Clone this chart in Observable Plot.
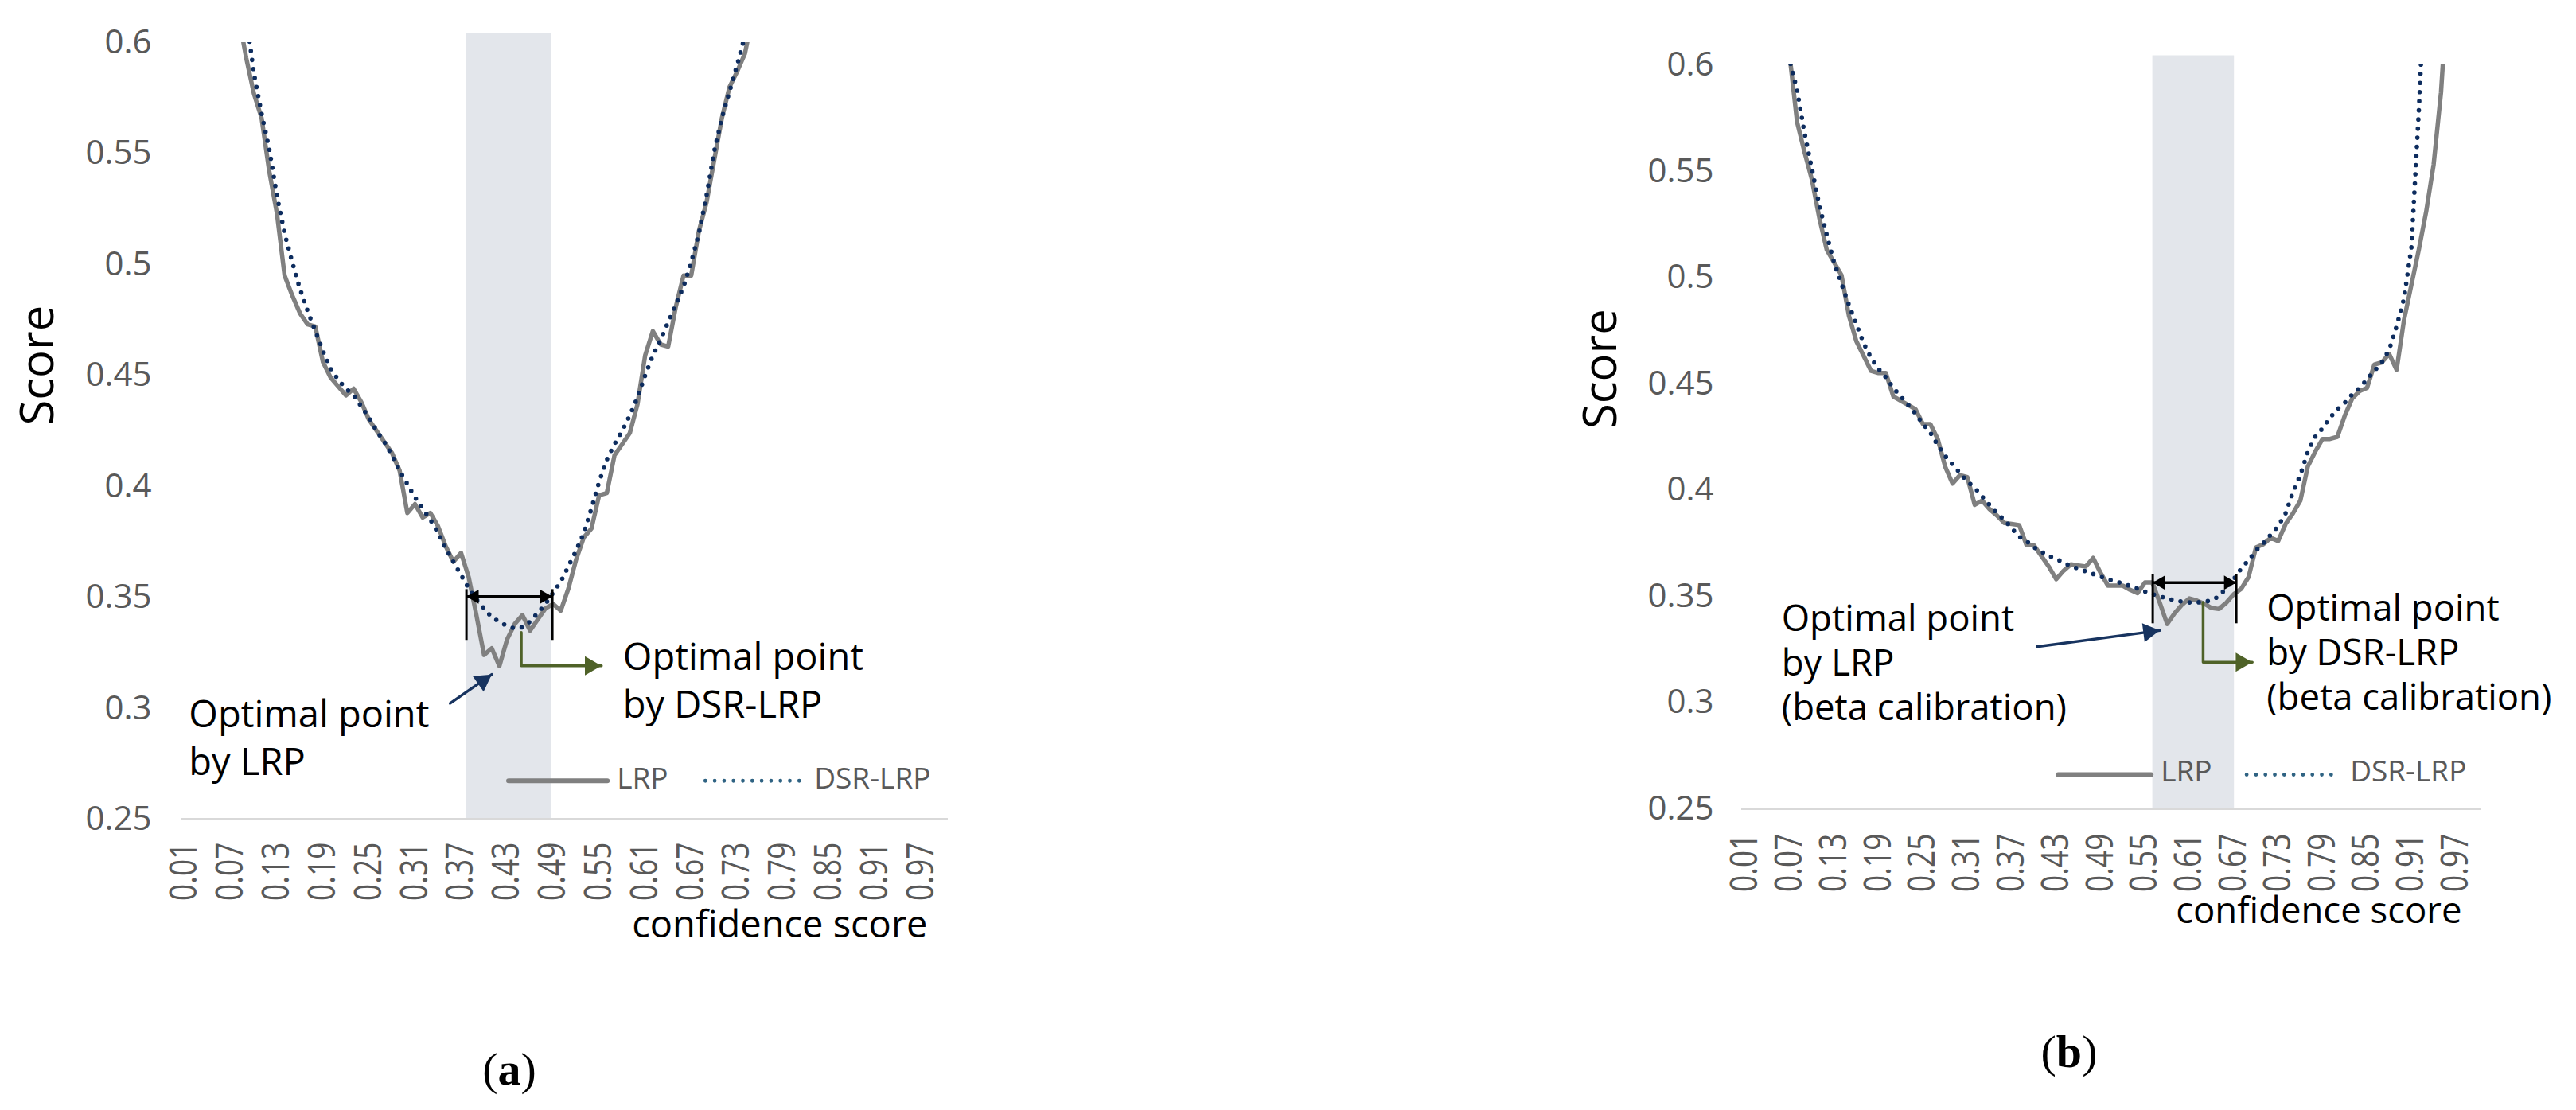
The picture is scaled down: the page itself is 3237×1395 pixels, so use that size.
<!DOCTYPE html>
<html>
<head>
<meta charset="utf-8">
<script src="https://cdn.jsdelivr.net/npm/d3@7"></script>
<script src="https://cdn.jsdelivr.net/npm/@observablehq/plot@0.6"></script>
<style>
  html, body { margin: 0; padding: 0; background: #ffffff; }
  #root { position: relative; width: 3237px; height: 1395px; overflow: hidden; background: #ffffff; }
  .panel { position: absolute; top: 0; }
  .caption { position: absolute; transform: translate(-50%, -50%); font-family: "Liberation Serif", "DejaVu Serif", serif; font-size: 58px; color: #000; white-space: nowrap; }
</style>
</head>
<body>
<div id="root"></div>
<script>
// ---------------- data ----------------
const confidence = [
  0.01,0.02,0.03,0.04,0.05,0.06,0.07,0.08,0.09,0.10,
  0.11,0.12,0.13,0.14,0.15,0.16,0.17,0.18,0.19,0.20,
  0.21,0.22,0.23,0.24,0.25,0.26,0.27,0.28,0.29,0.30,
  0.31,0.32,0.33,0.34,0.35,0.36,0.37,0.38,0.39,0.40,
  0.41,0.42,0.43,0.44,0.45,0.46,0.47,0.48,0.49,0.50,
  0.51,0.52,0.53,0.54,0.55,0.56,0.57,0.58,0.59,0.60,
  0.61,0.62,0.63,0.64,0.65,0.66,0.67,0.68,0.69,0.70,
  0.71,0.72,0.73,0.74,0.75,0.76,0.77,0.78,0.79,0.80,
  0.81,0.82,0.83,0.84,0.85,0.86,0.87,0.88,0.89,0.90,
  0.91,0.92,0.93,0.94,0.95,0.96,0.97,0.98,0.99,1.00
];

// panel (a): LRP score
const lrpA = [
  0.95,0.86,0.79,0.74,0.70,0.67,0.64,0.612,0.593,0.577,
  0.566,0.542,0.523,0.495,0.486,0.478,0.473,0.472,0.456,0.449,
  0.445,0.441,0.444,0.438,0.430,0.425,0.420,0.415,0.407,0.388,
  0.392,0.386,0.388,0.382,0.373,0.366,0.370,0.359,0.342,0.324,
  0.327,0.319,0.331,0.338,0.342,0.335,0.340,0.345,0.347,0.344,
  0.354,0.367,0.377,0.381,0.396,0.397,0.414,0.419,0.424,0.437,
  0.459,0.470,0.464,0.463,0.481,0.495,0.495,0.515,0.528,0.547,
  0.566,0.580,0.587,0.595,0.612,0.632,0.648,0.671,0.693,0.718,
  0.742,0.771,0.797,0.829,0.858,0.886,0.921,0.948,0.982,1.013,
  1.041,1.074,1.102,1.131,1.166,1.192,1.221,1.255,1.283,1.314
];
// panel (a): DSR-LRP score
const dsrA = [
  0.97,0.88,0.81,0.75,0.71,0.68,0.655,0.635,0.612,0.586,
  0.568,0.552,0.531,0.514,0.501,0.489,0.479,0.470,0.461,0.453,
  0.448,0.444,0.441,0.436,0.431,0.425,0.420,0.414,0.407,0.401,
  0.395,0.390,0.385,0.379,0.372,0.366,0.360,0.354,0.349,0.345,
  0.341,0.339,0.337,0.336,0.3365,0.339,0.343,0.347,0.352,0.357,
  0.364,0.371,0.379,0.390,0.402,0.412,0.419,0.425,0.432,0.440,
  0.450,0.459,0.466,0.474,0.482,0.490,0.501,0.514,0.531,0.551,
  0.566,0.578,0.590,0.603,0.620,0.641,0.662,0.684,0.709,0.733,
  0.761,0.788,0.816,0.846,0.873,0.904,0.931,0.963,0.991,1.022,
  1.053,1.081,1.112,1.144,1.171,1.203,1.232,1.262,1.293,1.321
];
// panel (b): LRP score (beta calibration)
const lrpB = [
  0.98,0.86,0.77,0.71,0.665,0.63,0.604,0.573,0.559,0.546,
  0.528,0.513,0.507,0.501,0.482,0.470,0.463,0.456,0.455,0.455,
  0.444,0.442,0.440,0.438,0.431,0.431,0.424,0.411,0.403,0.407,
  0.406,0.393,0.395,0.391,0.388,0.3845,0.384,0.3835,0.374,0.374,
  0.369,0.364,0.358,0.362,0.365,0.3645,0.364,0.368,0.361,0.355,
  0.355,0.355,0.353,0.3515,0.3565,0.3565,0.347,0.337,0.342,0.346,
  0.349,0.348,0.3465,0.3445,0.344,0.347,0.351,0.3535,0.359,0.373,
  0.3745,0.3775,0.376,0.384,0.389,0.395,0.411,0.418,0.424,0.424,
  0.425,0.435,0.443,0.4465,0.448,0.459,0.460,0.464,0.4565,0.480,
  0.4965,0.513,0.531,0.553,0.587,0.641,0.712,0.789,0.883,0.991
];
// panel (b): DSR-LRP score (beta calibration)
const dsrB = [
  1.00,0.88,0.79,0.72,0.67,0.632,0.602,0.588,0.568,0.551,
  0.534,0.520,0.507,0.497,0.487,0.478,0.469,0.462,0.457,0.453,
  0.448,0.444,0.440,0.436,0.431,0.427,0.421,0.416,0.412,0.408,
  0.404,0.401,0.397,0.393,0.389,0.386,0.382,0.378,0.376,0.373,
  0.371,0.369,0.3675,0.366,0.364,0.363,0.3617,0.3605,0.3593,0.358,
  0.357,0.356,0.3548,0.3536,0.3522,0.351,0.350,0.349,0.348,0.3475,
  0.3471,0.3471,0.3474,0.3481,0.350,0.354,0.358,0.363,0.367,0.3715,
  0.375,0.379,0.383,0.389,0.399,0.407,0.418,0.425,0.429,0.434,
  0.438,0.441,0.445,0.448,0.452,0.456,0.460,0.466,0.477,0.490,
  0.514,0.578,0.655,0.748,0.842,0.931,1.024,1.103,1.182,1.264
];

const seriesNames = ["LRP", "DSR-LRP"];
const xTickValues = [0.01,0.07,0.13,0.19,0.25,0.31,0.37,0.43,0.49,0.55,0.61,0.67,0.73,0.79,0.85,0.91,0.97];
const yTickValues = [0.25,0.3,0.35,0.4,0.45,0.5,0.55,0.6];
const xTitle = "confidence score";
const yTitle = "Score";
const panelCaptions = ["a", "b"];

// annotation anchors, in data units (confidence, score)
const shadeA = [{x1: 0.377, x2: 0.488, y1: 0.25, y2: 0.6041}];
const shadeB = [{x1: 0.5605, x2: 0.6708, y1: 0.25, y2: 0.6043}];
const spanA = {x1: 0.377, x2: 0.489, y: 0.3503, top: 0.3535, bottom: 0.3306};
const spanB = {x1: 0.5605, x2: 0.6734, y: 0.3564, top: 0.3602, bottom: 0.3371};
const greenPathA = [[0.4485, 0.3342], [0.4485, 0.3191], [0.553, 0.3191]];
const greenPathB = [[0.6286, 0.3471], [0.6286, 0.3190], [0.695, 0.3190]];
const bluePathA = [[0.3558, 0.3022], [0.410, 0.3152]];
const bluePathB = [[0.4041, 0.3263], [0.570, 0.3339]];
const noteLrpA = {c: 0.0152, v: 0.3034, label: "Optimal point\nby LRP"};
const noteDsrA = {c: 0.5811, v: 0.3293, label: "Optimal point\nby DSR-LRP"};
const noteLrpB = {c: 0.059, v: 0.3460, label: "Optimal point\nby LRP\n(beta calibration)"};
const noteDsrB = {c: 0.7143, v: 0.3508, label: "Optimal point\nby DSR-LRP\n(beta calibration)"};
const legendA = {v: 0.2673, textV: 0.2679, lrp: [0.4319, 0.5607], lrpText: 0.5731, dsr: [0.6884, 0.811], dsrText: 0.8304};
const legendB = {v: 0.2661, textV: 0.2672, lrp: [0.4326, 0.5584], lrpText: 0.5713, dsr: [0.6874, 0.8078], dsrText: 0.8272};

// ---------------- styling / layout ----------------
const xDomain = [0.005, 1.005];
const yDomain = [0.25, 0.6];
const colors = {lrp: "#808080", dsr: "#0D2C5E", legendDsr: "#2F6383", shade: "#E3E6EB", axis: "#D9D9D9",
                tick: "#595959", green: "#4F6228", blue: "#17335F"};

const layoutA = {left: 0, width: 1240, height: 1210, marginLeft: 227, marginRight: 49, marginTop: 53, marginBottom: 181,
  tickPadX: 29, tickPadY: 37, yTitleDx: -179, yTitleDy: -7, xTitleDx: -26, xTitleDy: 148, xTitleSize: 47,
  noteSize: 47, noteLine: 1.277, noteDy: -9};
const layoutB = {left: 1950, width: 1287, height: 1210, marginLeft: 238, marginRight: 119, marginTop: 81, marginBottom: 194,
  tickPadX: 31, tickPadY: 35, yTitleDx: -176, yTitleDy: -10, xTitleDx: -25, xTitleDy: 143, xTitleSize: 45.5,
  noteSize: 45.5, noteLine: 1.23, noteDy: -7};

function buildPanel(layout, lrp, dsr, shade, span, greenPath, bluePath, notes, legend) {
  const rows = confidence.map((c, i) => ({c, lrp: lrp[i], dsr: dsr[i]}));
  const xs = d3.scaleLinear(xDomain, [layout.marginLeft, layout.width - layout.marginRight]);
  const ys = d3.scaleLinear(yDomain, [layout.height - layout.marginBottom, layout.marginTop]);
  // triangle arrow-head placed so that its tip touches the given point
  function head(from, tip, r) {
    const x0 = xs(from[0]), y0 = ys(from[1]), x1 = xs(tip[0]), y1 = ys(tip[1]);
    const len = Math.hypot(x1 - x0, y1 - y0);
    const ux = (x1 - x0) / len, uy = (y1 - y0) / len;
    const off = 1.555 * r;
    return {c: xs.invert(x1 - ux * off), v: ys.invert(y1 - uy * off), rotate: Math.atan2(ux, -uy) * 180 / Math.PI};
  }
  const spanHeadR = 6.6, bigHeadR = 8.9;
  const spanHeads = [
    head([span.x2, span.y], [span.x1, span.y], spanHeadR),
    head([span.x1, span.y], [span.x2, span.y], spanHeadR)
  ];
  const greenHead = [head(greenPath[1], greenPath[2], bigHeadR)];
  const blueHead = [head(bluePath[0], bluePath[1], bigHeadR)];
  const toPts = (arr) => arr.map(([c, v]) => ({c, v}));
  const spanBars = [{c: span.x1, y1: span.bottom, y2: span.top}, {c: span.x2, y1: span.bottom, y2: span.top}];

  const noteOpts = {x: "c", y: "v", text: "label", textAnchor: "start", lineAnchor: "top",
    lineHeight: layout.noteLine, fontSize: layout.noteSize, fill: "#000", dy: layout.noteDy};

  const svg = Plot.plot({
    width: layout.width, height: layout.height,
    marginLeft: layout.marginLeft, marginRight: layout.marginRight,
    marginTop: layout.marginTop, marginBottom: layout.marginBottom,
    style: {fontFamily: "'Open Sans', 'Noto Sans', sans-serif", background: "transparent", overflow: "visible"},
    x: {type: "linear", domain: xDomain},
    y: {type: "linear", domain: yDomain},
    marks: [
      Plot.rect(shade, {x1: "x1", x2: "x2", y1: "y1", y2: "y2", fill: colors.shade}),
      Plot.ruleY([0.25], {stroke: colors.axis, strokeWidth: 3}),
      Plot.axisY({ticks: yTickValues, tickSize: 0, tickPadding: layout.tickPadY, tickFormat: (d) => String(d),
        fontSize: 42, color: colors.tick, label: null}),
      Plot.axisX({ticks: xTickValues, tickSize: 0, tickPadding: layout.tickPadX, tickRotate: -90,
        tickFormat: (d) => d.toFixed(2), fontSize: 47, color: colors.tick, label: null}),
      Plot.line(rows, {x: "c", y: "lrp", stroke: colors.lrp, strokeWidth: 5.5, strokeLinejoin: "round", clip: true}),
      Plot.line(rows, {x: "c", y: "dsr", stroke: colors.dsr, strokeWidth: 5.6, strokeDasharray: "0 11.5",
        strokeLinecap: "round", clip: true}),
      // legend
      Plot.line(legend.lrp.map((c) => ({c, v: legend.v})), {x: "c", y: "v", stroke: colors.lrp, strokeWidth: 6}),
      Plot.line(legend.dsr.map((c) => ({c, v: legend.v})), {x: "c", y: "v", stroke: colors.legendDsr, strokeWidth: 4.8,
        strokeDasharray: "0 11.8", strokeLinecap: "round"}),
      Plot.text([{c: legend.lrpText, v: legend.textV, label: seriesNames[0]}, {c: legend.dsrText, v: legend.textV, label: seriesNames[1]}],
        {x: "c", y: "v", text: "label", textAnchor: "start", fontSize: 37, fill: colors.tick}),
      // optimal interval
      Plot.link([span], {x1: "x1", x2: "x2", y1: "y", y2: "y", stroke: "#000", strokeWidth: 3.5}),
      Plot.ruleX(spanBars, {x: "c", y1: "y1", y2: "y2", stroke: "#000", strokeWidth: 3}),
      Plot.dot(spanHeads, {x: "c", y: "v", rotate: "rotate", r: spanHeadR, symbol: "triangle", fill: "#000", stroke: "none"}),
      // green elbow arrow
      Plot.line(toPts(greenPath), {x: "c", y: "v", stroke: colors.green, strokeWidth: 3.5}),
      Plot.dot(greenHead, {x: "c", y: "v", rotate: "rotate", r: bigHeadR, symbol: "triangle", fill: colors.green, stroke: "none"}),
      // blue arrow
      Plot.line(toPts(bluePath), {x: "c", y: "v", stroke: colors.blue, strokeWidth: 3.5}),
      Plot.dot(blueHead, {x: "c", y: "v", rotate: "rotate", r: bigHeadR, symbol: "triangle", fill: colors.blue, stroke: "none"}),
      // notes
      Plot.text([notes[0]], noteOpts),
      Plot.text([notes[1]], noteOpts),
      // axis titles
      Plot.text([yTitle], {frameAnchor: "left", rotate: -90, dx: layout.yTitleDx, dy: layout.yTitleDy,
        fontSize: 58, fill: "#000", ariaLabel: "y-title"}),
      Plot.text([xTitle], {frameAnchor: "bottom-right", textAnchor: "end", dx: layout.xTitleDx, dy: layout.xTitleDy,
        fontSize: layout.xTitleSize, fill: "#000"})
    ]
  });
  // compress rotated texts along their reading direction, as in the original figure
  svg.querySelectorAll('g[aria-label="x-axis tick label"] text').forEach((t) => {
    const tr = t.getAttribute("transform");
    if (tr && tr.includes("rotate")) t.setAttribute("transform", tr + " scale(0.79,1)");
  });
  svg.querySelectorAll('g[aria-label="y-title"] text').forEach((t) => {
    const tr = t.getAttribute("transform");
    if (tr && tr.includes("rotate")) t.setAttribute("transform", tr + " scale(0.79,1)");
  });
  svg.classList.add("panel");
  svg.style.left = layout.left + "px";
  svg.style.top = "0px";
  return svg;
}

const root = document.getElementById("root");
root.appendChild(buildPanel(layoutA, lrpA, dsrA, shadeA, spanA, greenPathA, bluePathA, [noteLrpA, noteDsrA], legendA));
root.appendChild(buildPanel(layoutB, lrpB, dsrB, shadeB, spanB, greenPathB, bluePathB, [noteLrpB, noteDsrB], legendB));

const capPos = [{x: 640, y: 1343}, {x: 2600, y: 1321}];
panelCaptions.forEach((letter, i) => {
  const div = document.createElement("div");
  div.className = "caption";
  div.style.left = capPos[i].x + "px";
  div.style.top = capPos[i].y + "px";
  div.innerHTML = "(<b>" + letter + "</b>)";
  root.appendChild(div);
});
</script>
</body>
</html>
